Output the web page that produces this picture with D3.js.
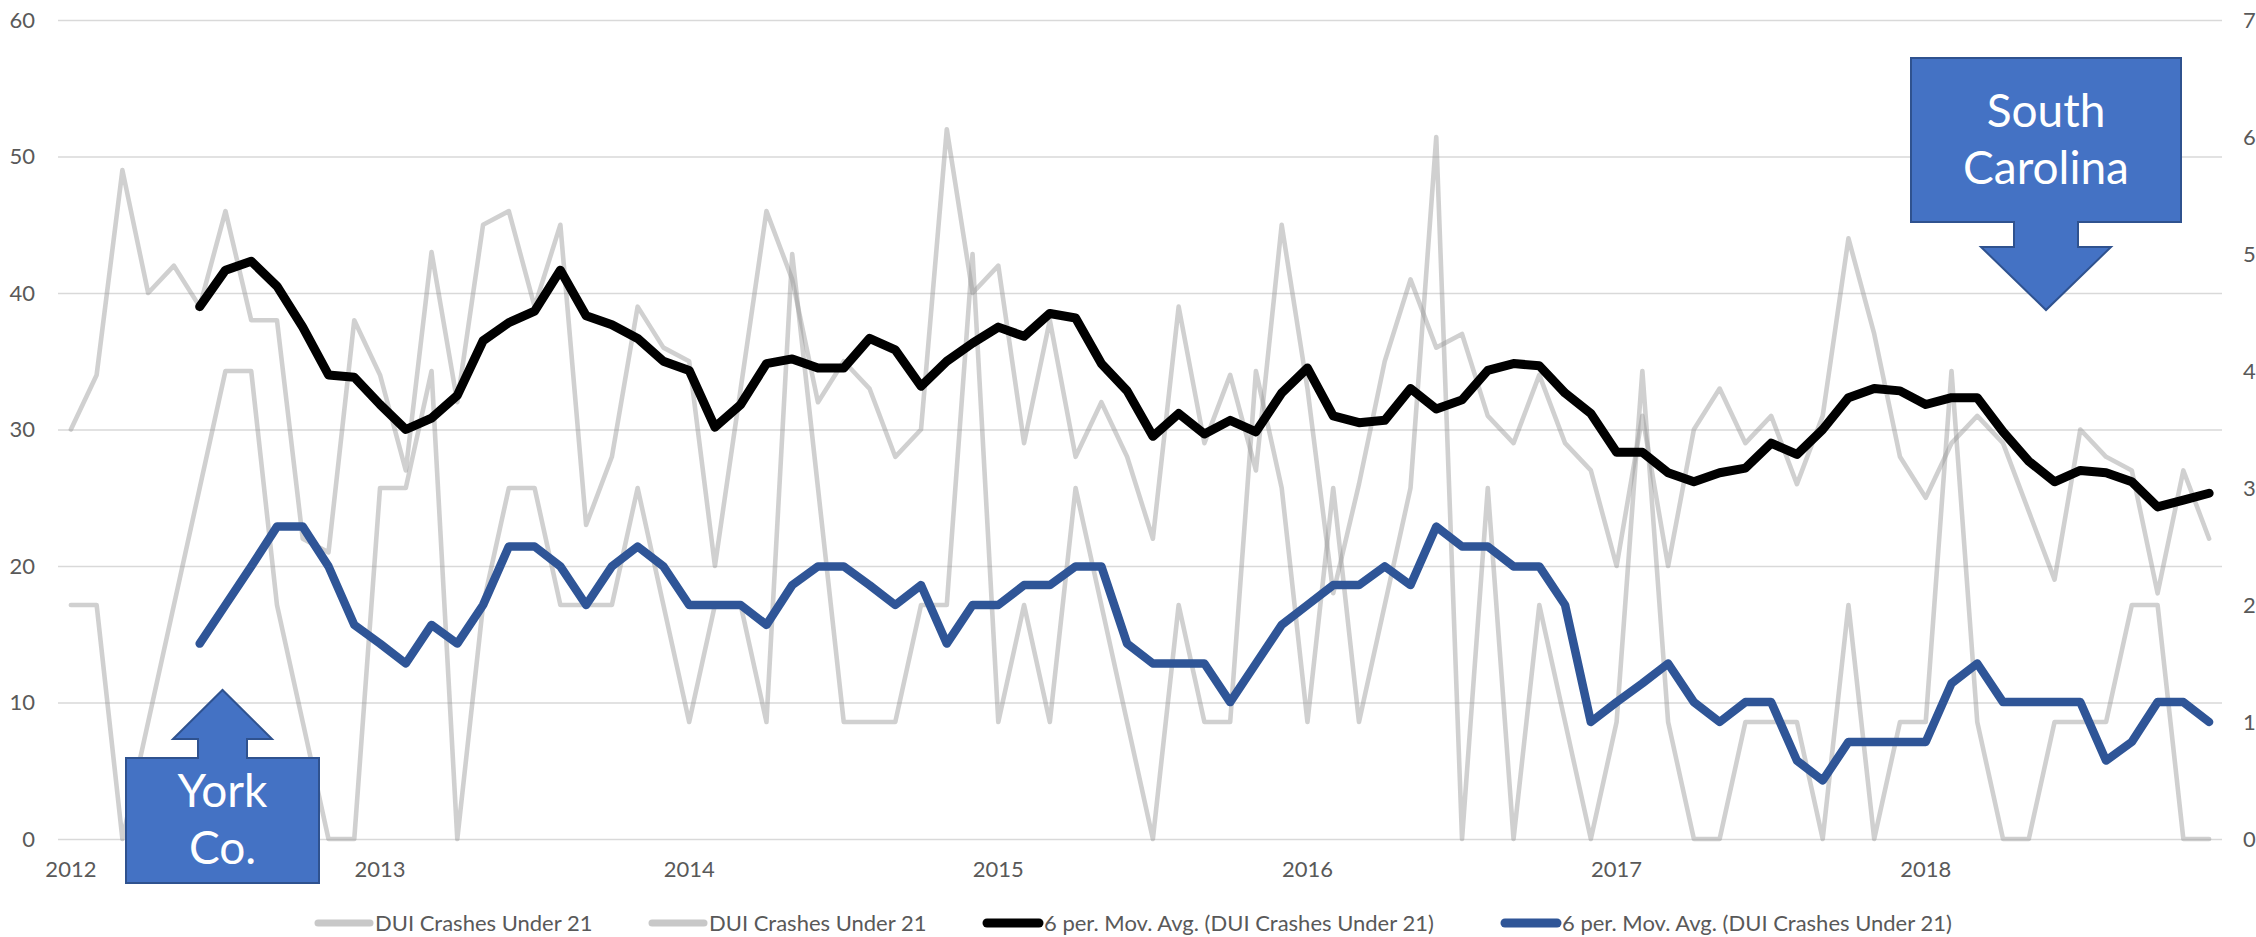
<!DOCTYPE html>
<html>
<head>
<meta charset="utf-8">
<script src="https://cdnjs.cloudflare.com/ajax/libs/d3/7.8.5/d3.min.js"></script>
<style>
  html, body { margin: 0; padding: 0; background: #fff; }
  svg { display: block; }
  text { font-family: Lato, 'Open Sans', sans-serif; fill: #595959; }
</style>
</head>
<body>
<svg id="chart" width="2256" height="937"></svg>
<script>
'use strict';

// monthly, Jan 2012 .. Dec 2018
var years = ['2012', '2013', '2014', '2015', '2016', '2017', '2018'];
var months = d3.range(1, 13);
var categories = [];
years.forEach(function (y) {
  months.forEach(function (m) { categories.push(y + '-' + (m < 10 ? '0' + m : m)); });
});

// DUI crashes under 21 - South Carolina (left axis)
var scCrashes = [
  30, 34, 49, 40, 42, 39, 46, 38, 38, 22, 21, 38,
  34, 27, 43, 32, 45, 46, 39, 45, 23, 28, 39, 36,
  35, 20, 33, 46, 41, 32, 35, 33, 28, 30, 52, 40,
  42, 29, 38, 28, 32, 28, 22, 39, 29, 34, 27, 45,
  33, 18, 26, 35, 41, 36, 37, 31, 29, 34, 29, 27,
  20, 31, 20, 30, 33, 29, 31, 26, 31, 44, 37, 28,
  25, 29, 31, 29, 24, 19, 30, 28, 27, 18, 27, 22
];

// DUI crashes under 21 - York Co. (right axis)
var yorkCrashes = [
  2, 2, 0, 1, 2, 3, 4, 4, 2, 1, 0, 0,
  3, 3, 4, 0, 2, 3, 3, 2, 2, 2, 3, 2,
  1, 2, 2, 1, 5, 3, 1, 1, 1, 2, 2, 5,
  1, 2, 1, 3, 2, 1, 0, 2, 1, 1, 4, 3,
  1, 3, 1, 2, 3, 6, 0, 3, 0, 2, 1, 0,
  1, 4, 1, 0, 0, 1, 1, 1, 0, 2, 0, 1,
  1, 4, 1, 0, 0, 1, 1, 1, 2, 2, 0, 0
];

// 6 per. mov. avg. trendlines
var scMovAvg = [
  null, null, null, null, null, 39.00, 41.67, 42.33, 40.50, 37.50, 34.00, 33.83,
  31.83, 30.00, 30.83, 32.50, 36.50, 37.83, 38.67, 41.67, 38.33, 37.67, 36.67, 35.00,
  34.33, 30.17, 31.83, 34.83, 35.17, 34.50, 34.50, 36.67, 35.83, 33.17, 35.00, 36.33,
  37.50, 36.83, 38.50, 38.17, 34.83, 32.83, 29.50, 31.17, 29.67, 30.67, 29.83, 32.67,
  34.50, 31.00, 30.50, 30.67, 33.00, 31.50, 32.17, 34.33, 34.83, 34.67, 32.67, 31.17,
  28.33, 28.33, 26.83, 26.17, 26.83, 27.17, 29.00, 28.17, 30.00, 32.33, 33.00, 32.83,
  31.83, 32.33, 32.33, 29.83, 27.67, 26.17, 27.00, 26.83, 26.17, 24.33, 24.83, 25.33
];

var yorkMovAvg = [
  null, null, null, null, null, 1.67, 2.00, 2.33, 2.67, 2.67, 2.33, 1.83,
  1.67, 1.50, 1.83, 1.67, 2.00, 2.50, 2.50, 2.33, 2.00, 2.33, 2.50, 2.33,
  2.00, 2.00, 2.00, 1.83, 2.17, 2.33, 2.33, 2.17, 2.00, 2.17, 1.67, 2.00,
  2.00, 2.17, 2.17, 2.33, 2.33, 1.67, 1.50, 1.50, 1.50, 1.17, 1.50, 1.83,
  2.00, 2.17, 2.17, 2.33, 2.17, 2.67, 2.50, 2.50, 2.33, 2.33, 2.00, 1.00,
  1.17, 1.33, 1.50, 1.17, 1.00, 1.17, 1.17, 0.67, 0.50, 0.83, 0.83, 0.83,
  0.83, 1.33, 1.50, 1.17, 1.17, 1.17, 1.17, 0.67, 0.83, 1.17, 1.17, 1.00
];

var leftTicks = [0, 10, 20, 30, 40, 50, 60];
var rightTicks = [0, 1, 2, 3, 4, 5, 6, 7];
var legendLabels = [
  'DUI Crashes Under 21',
  'DUI Crashes Under 21',
  '6 per. Mov. Avg. (DUI Crashes Under 21)',
  '6 per. Mov. Avg. (DUI Crashes Under 21)'
];

var plot = { left: 58, right: 2222, top: 20, bottom: 839 };
var svg = d3.select('#chart');

var x = d3.scaleBand().domain(categories).range([plot.left, plot.right]);
var cx = function (i) { return x(categories[i]) + x.bandwidth() / 2; };
var yL = d3.scaleLinear().domain([0, 60]).range([plot.bottom, plot.top]);
var yR = d3.scaleLinear().domain([0, 7]).range([plot.bottom, plot.top]);

// gridlines
svg.append('g')
  .attr('class', 'grid')
  .attr('transform', 'translate(' + plot.left + ',0)')
  .call(d3.axisLeft(yL).tickValues(leftTicks).tickSize(-(plot.right - plot.left)).tickFormat(''))
  .call(function (g) { g.select('.domain').remove(); })
  .selectAll('line')
  .attr('stroke', '#d9d9d9')
  .attr('stroke-width', 1.5);

// axes
var axisFont = function (g) {
  g.select('.domain').remove();
  g.selectAll('text').attr('font-size', 22).attr('fill', '#595959');
};

svg.append('g')
  .attr('transform', 'translate(' + plot.left + ',0)')
  .call(d3.axisLeft(yL).tickValues(leftTicks).tickFormat(d3.format('d')).tickSize(0).tickPadding(23))
  .call(axisFont);

svg.append('g')
  .attr('transform', 'translate(' + plot.right + ',0)')
  .call(d3.axisRight(yR).tickValues(rightTicks).tickFormat(d3.format('d')).tickSize(0).tickPadding(21))
  .call(axisFont);

svg.append('g')
  .attr('transform', 'translate(0,' + plot.bottom + ')')
  .call(d3.axisBottom(x)
    .tickValues(categories.filter(function (c) { return c.slice(5) === '01'; }))
    .tickFormat(function (c) { return c.slice(0, 4); })
    .tickSize(0).tickPadding(22))
  .call(axisFont);

// series
var lineL = d3.line()
  .defined(function (d) { return d != null; })
  .x(function (d, i) { return cx(i); })
  .y(function (d) { return yL(d); });
var lineR = d3.line()
  .defined(function (d) { return d != null; })
  .x(function (d, i) { return cx(i); })
  .y(function (d) { return yR(d); });

var series = [
  { data: scCrashes, line: lineL, color: 'rgba(150,150,150,0.45)', width: 4.6 },
  { data: yorkCrashes, line: lineR, color: 'rgba(150,150,150,0.45)', width: 4.6 },
  { data: scMovAvg, line: lineL, color: '#000000', width: 9 },
  { data: yorkMovAvg, line: lineR, color: '#2f5597', width: 8.5 }
];

svg.append('g')
  .selectAll('path')
  .data(series)
  .enter()
  .append('path')
  .attr('d', function (s) { return s.line(s.data); })
  .attr('fill', 'none')
  .attr('stroke', function (s) { return s.color; })
  .attr('stroke-width', function (s) { return s.width; })
  .attr('stroke-linejoin', 'round')
  .attr('stroke-linecap', 'round');

// legend
var legendItems = [
  { x: 318, color: '#c8c8c8', width: 7 },
  { x: 652, color: '#c8c8c8', width: 7 },
  { x: 987, color: '#000000', width: 9 },
  { x: 1505, color: '#2f5597', width: 9 }
];
var legend = svg.append('g').attr('transform', 'translate(0,923)');
legendItems.forEach(function (it, i) {
  legend.append('line')
    .attr('x1', it.x).attr('x2', it.x + 52)
    .attr('y1', 0).attr('y2', 0)
    .attr('stroke', it.color)
    .attr('stroke-width', it.width)
    .attr('stroke-linecap', 'round');
  legend.append('text')
    .attr('x', it.x + 57)
    .attr('dy', '0.35em')
    .attr('font-size', 22)
    .text(legendLabels[i]);
});

// callouts
var callouts = [
  { pts: [[126, 883], [126, 758], [198, 758], [198, 739], [173, 739], [222.5, 690], [272, 739], [247, 739], [247, 758], [319, 758], [319, 883]],
    lines: ['York', 'Co.'], cx: 222.5, y0: 807 },
  { pts: [[1911, 58], [2181, 58], [2181, 222], [2078, 222], [2078, 247], [2111, 247], [2046, 310], [1981, 247], [2014, 247], [2014, 222], [1911, 222]],
    lines: ['South', 'Carolina'], cx: 2046, y0: 127 }
];
callouts.forEach(function (c) {
  svg.append('polygon')
    .attr('points', c.pts.map(function (p) { return p.join(','); }).join(' '))
    .attr('fill', '#4472c4')
    .attr('stroke', '#2f528f')
    .attr('stroke-width', 2);
  c.lines.forEach(function (t, j) {
    svg.append('text')
      .attr('x', c.cx)
      .attr('y', c.y0 + j * 57)
      .attr('text-anchor', 'middle')
      .attr('font-size', 46)
      .style('fill', '#ffffff')
      .text(t);
  });
});
</script>
</body>
</html>
